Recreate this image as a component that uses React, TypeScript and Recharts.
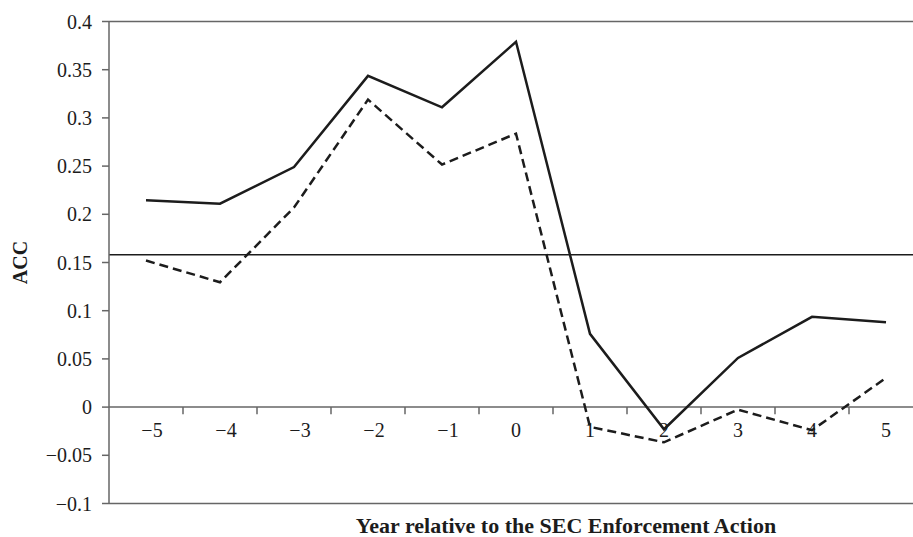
import React from "react";
import {
  LineChart, Line, XAxis, YAxis, ReferenceLine, ReferenceDot, Label,
} from "recharts";

const years = [-5, -4, -3, -2, -1, 0, 1, 2, 3, 4, 5];
const solidAcc = [0.2145, 0.211, 0.249, 0.3436, 0.311, 0.379, 0.076, -0.023, 0.051, 0.0936, 0.088];
const dashedAcc = [0.152, 0.1295, 0.207, 0.319, 0.2516, 0.2837, -0.0205, -0.0365, -0.0026, -0.024, 0.0303];
const yTicks = [-0.1, -0.05, 0, 0.05, 0.1, 0.15, 0.2, 0.25, 0.3, 0.35, 0.4];
const bandEdges = [-4.5, -3.5, -2.5, -1.5, -0.5, 0.5, 1.5, 2.5, 3.5, 4.5];
const benchmark = 0.158;
const tickDepth = 0.0073;

const data = years.map((y, i) => ({ year: y, solid: solidAcc[i], dashed: dashedAcc[i] }));

const FONT = "Liberation Serif";
const AXIS = "#666";
const INK = "#1c1c1c";

const fmt = (v: number) => {
  const s = String(Math.round(v * 100) / 100);
  return s.startsWith("-") ? "\u2212" + s.slice(1) : s;
};

const YTick = ({ x, y, payload }: any) => (
  <text x={x} y={y} textAnchor="end" dominantBaseline="central"
    style={{ fontFamily: FONT, fontSize: 20, fill: INK }}>
    {fmt(payload.value)}
  </text>
);

export default function App() {
  return (
    <div style={{ position: "fixed", left: 0, top: 0, width: 913, height: 537, overflow: "hidden", background: "#fff", fontFamily: FONT }}>
      <LineChart width={930} height={537} data={data} margin={{ top: 21.5, right: 7, left: 0, bottom: 0 }} style={{ fontFamily: FONT }}>
        <XAxis
          dataKey="year"
          type="number"
          domain={[-5.5, 5.5]}
          ticks={[]}
          tick={false}
          tickLine={false}
          height={33.5}
          axisLine={{ stroke: AXIS, strokeWidth: 1.5 }}
        >
          <Label
            value="Year relative to the SEC Enforcement Action"
            position="insideBottom"
            offset={4}
            dx={50}
            style={{ fontFamily: FONT, fontSize: 22, fontWeight: 700, fill: INK }}
          />
        </XAxis>
        <YAxis
          type="number"
          domain={[-0.1, 0.4]}
          ticks={yTicks}
          width={109}
          tickSize={7}
          tickMargin={10}
          axisLine={{ stroke: AXIS, strokeWidth: 1.5 }}
          tickLine={{ stroke: AXIS, strokeWidth: 1.5 }}
          tick={<YTick />}
        >
          <Label
            content={({ viewBox }: any) => {
              const cx = viewBox.x + 19.5;
              const cy = viewBox.y + viewBox.height / 2;
              return (
                <text
                  x={cx}
                  y={cy}
                  transform={`rotate(-90 ${cx} ${cy})`}
                  textAnchor="middle"
                  dominantBaseline="central"
                  style={{ fontFamily: FONT, fontSize: 20, fontWeight: 700, fill: INK }}
                >
                  ACC
                </text>
              );
            }}
          />
        </YAxis>
        <ReferenceLine y={0.4} stroke={AXIS} strokeWidth={1.5} />
        <ReferenceLine y={0} stroke={AXIS} strokeWidth={1.5} />
        {bandEdges.map((b) => (
          <ReferenceLine
            key={b}
            segment={[{ x: b, y: 0 }, { x: b, y: -tickDepth }]}
            stroke={AXIS}
            strokeWidth={1.5}
          />
        ))}
        {years.map((yr) => (
          <ReferenceDot key={yr} x={yr} y={0} r={0} fill="none" stroke="none">
            <Label
              value={yr < 0 ? "\u2212" + Math.abs(yr) : String(yr)}
              position="bottom"
              offset={16}
              dx={yr < 0 ? 6 : 0}
              style={{ fontFamily: FONT, fontSize: 20, fill: INK }}
            />
          </ReferenceDot>
        ))}
        <ReferenceLine y={benchmark} stroke={INK} strokeWidth={1.5} />
        <Line
          dataKey="solid"
          stroke={INK}
          strokeWidth={2.5}
          dot={false}
          isAnimationActive={false}
        />
        <Line
          dataKey="dashed"
          stroke={INK}
          strokeWidth={2.5}
          strokeDasharray="9 5"
          dot={false}
          isAnimationActive={false}
        />
      </LineChart>
    </div>
  );
}
